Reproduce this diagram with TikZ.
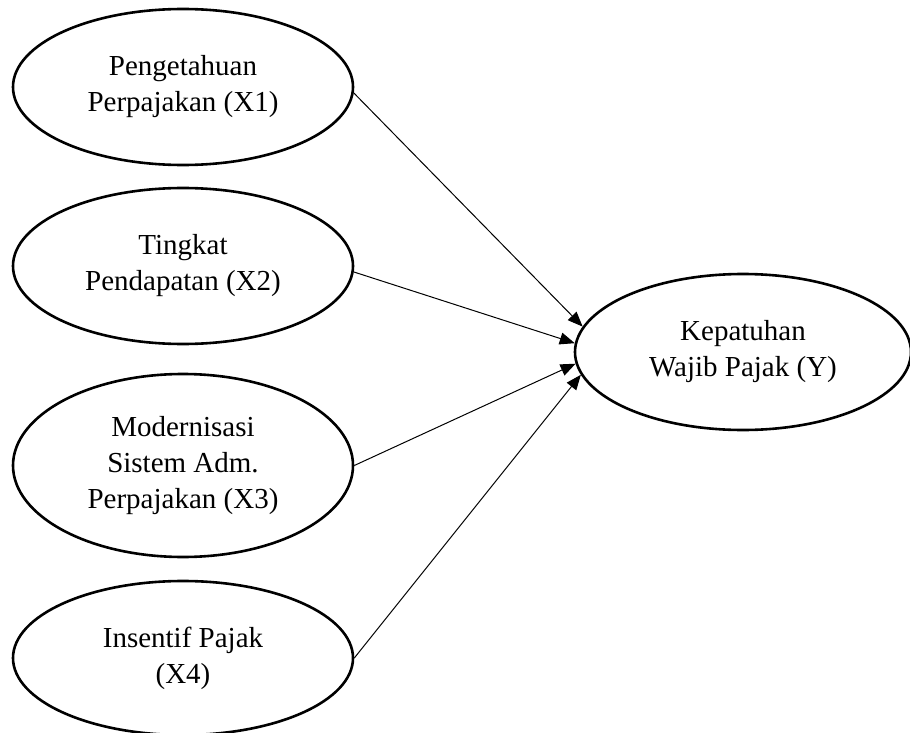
\documentclass[tikz,border=0pt]{standalone}
\usepackage{fontspec}
\setmainfont{Liberation Serif}
\usetikzlibrary{shapes.geometric,arrows.meta}
\begin{document}
\begin{tikzpicture}[x=1pt,y=1pt,
  varbox/.style={draw=black, line width=2.6pt, ellipse, inner sep=0pt,
    minimum width=340pt, minimum height=156pt, align=center,
    font=\fontsize{29}{36}\selectfont},
  link/.style={draw=black, line width=1pt, -{Triangle[length=15pt,width=12pt]}}]
\useasboundingbox (0,0) rectangle (910,-733);
\node[varbox] (X1) at (183,-87) {Pengetahuan\\Perpajakan (X1)};
\node[varbox] (X2) at (183,-266) {Tingkat\\Pendapatan (X2)};
\node[varbox, minimum height=183pt] (X3) at (183,-465.5) {Modernisasi\\Sistem Adm.\\Perpajakan (X3)};
\node[varbox, minimum height=154pt] (X4) at (183,-658) {Insentif Pajak\\(X4)};
\node[varbox, minimum width=336pt] (Y) at (743,-352) {Kepatuhan\\Wajib Pajak (Y)};
\draw[link] (X1.-2) -- (Y.171);
\draw[link] (X2.-2.3) -- (Y.177.6);
\draw[link] (X3.0) -- (Y.184.1);
\draw[link] (X4.0) -- (Y.188.9);
\end{tikzpicture}
\end{document}
